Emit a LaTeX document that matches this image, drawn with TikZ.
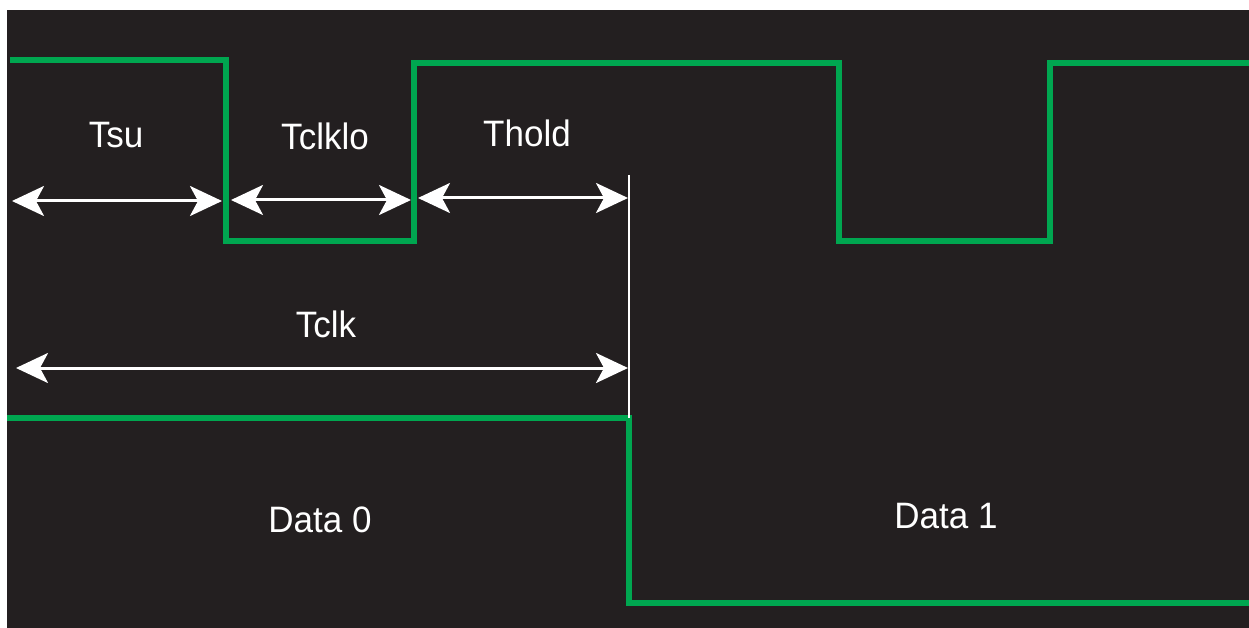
\documentclass[tikz,border=0pt]{standalone}
\usepackage{fontspec}
\setmainfont{Liberation Sans}
\usetikzlibrary{arrows.meta}
\definecolor{board}{HTML}{231F20}
\definecolor{trace}{HTML}{00A650}

\begin{document}
\begin{tikzpicture}
  [x=1pt,y=-1pt,
   wave/.style={draw=trace,line width=6pt,miter limit=4},
   dim/.style={draw=white,line width=3pt,{Stealth[length=32pt,width=30pt,inset=8pt]}-{Stealth[length=32pt,width=30pt,inset=8pt]}},
   every node/.style={text=white,font=\fontsize{35}{40}\selectfont,anchor=base,inner sep=0pt,yscale=1.05}]
  \useasboundingbox (0,0) rectangle (1249,628);
  \fill[white] (0,0) rectangle (1249,628);
  \fill[board] (7,10) rectangle (1249,628);

  % clock and data lines
  \draw[wave] (10,60) -- (226,60) -- (226,241) -- (414,241) -- (414,63)
    -- (839,63) -- (839,241) -- (1050,241) -- (1050,63) -- (1249,63);
  \draw[wave] (7,418) -- (629,418) -- (629,603) -- (1249,603);

  \coordinate (mk1) at (629,175);
  \coordinate (mk2) at (629,418);
  \draw[white,line width=2.5pt] (mk1) -- (mk2);

  \coordinate (su1) at (12,201);
  \coordinate (su2) at (222,201);
  \coordinate (lo1) at (231,200);
  \coordinate (lo2) at (411,200);
  \coordinate (ho1) at (418,198);
  \coordinate (ho2) at (628,198);
  \coordinate (ck1) at (16,368);
  \coordinate (ck2) at (628,368);
\foreach \from/\to in
{su1/su2, lo1/lo2, ho1/ho2, ck1/ck2}
    \draw[dim] (\from) -- (\to);

  \node (tsu)    at (116,148) {Tsu};
  \node (tclklo) at (325,150) {Tclklo};
  \node (thold)  at (527,147) {Thold};
  \node (tclk)   at (326,337) {Tclk};
  \node (data0)  at (320,532) {Data 0};
  \node (data1)  at (946,528) {Data 1};

\end{tikzpicture}
\end{document}
